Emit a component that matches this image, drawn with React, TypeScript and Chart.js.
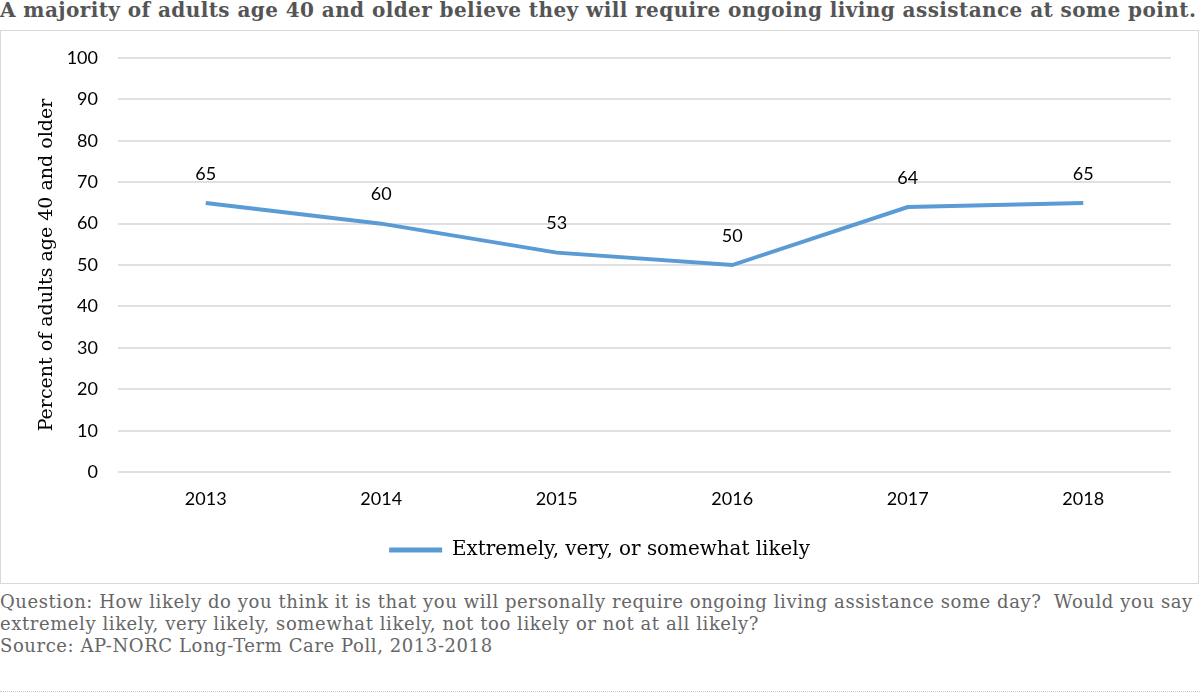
import React, { useEffect, useRef } from 'react';
import { Chart, registerables } from 'chart.js';

Chart.register(...registerables);

const categories = ['2013', '2014', '2015', '2016', '2017', '2018'];
const likelyValues = [65, 60, 53, 50, 64, 65];
const seriesLabel = 'Extremely, very, or somewhat likely';
const yMin = 0;
const yMax = 100;
const yStep = 10;
const yAxisTitle = 'Percent of adults age 40 and older';
const titleText =
  'A majority of adults age 40 and older believe they will require ongoing living assistance at some point.';
const noteLines = [
  'Question: How likely do you think it is that you will personally require ongoing living assistance some day?  Would you say',
  'extremely likely, very likely, somewhat likely, not too likely or not at all likely?',
  'Source: AP-NORC Long-Term Care Poll, 2013-2018',
];

const LINE_COLOR = '#5B9BD5';
const SLAB = '"DejaVu Serif", serif';
const SANS = 'Lato, "Open Sans", sans-serif';

const valueLabels = {
  id: 'valueLabels',
  afterDatasetsDraw(chart: any) {
    const ctx = chart.ctx;
    const meta = chart.getDatasetMeta(0);
    const data = chart.data.datasets[0].data;
    ctx.save();
    ctx.font = '18px Lato';
    ctx.fillStyle = '#000';
    ctx.textAlign = 'center';
    ctx.textBaseline = 'middle';
    meta.data.forEach((pt: any, i: number) => {
      ctx.fillText(String(data[i]), pt.x, pt.y - 29);
    });
    ctx.restore();
  },
};

export default function App() {
  const canvasRef = useRef<HTMLCanvasElement | null>(null);

  useEffect(() => {
    document.body.style.margin = '0';
    const canvas = canvasRef.current;
    if (!canvas) return;
    const defaultGen = (Chart as any).defaults.plugins.legend.labels.generateLabels;
    const chart = new Chart(canvas, {
      type: 'line',
      data: {
        labels: categories,
        datasets: [
          {
            label: seriesLabel,
            data: likelyValues,
            borderColor: LINE_COLOR,
            backgroundColor: LINE_COLOR,
            borderWidth: 4,
            pointRadius: 0,
            pointHoverRadius: 0,
            tension: 0,
          },
        ],
      },
      options: {
        responsive: false,
        maintainAspectRatio: false,
        animation: false,
        devicePixelRatio: 1,
        layout: { padding: { top: 27, right: 0, left: 0, bottom: 13 } },
        plugins: {
          legend: {
            position: 'bottom',
            labels: {
              font: { family: SLAB, size: 19.9 },
              color: '#000',
              boxWidth: 53,
              boxHeight: 5,
              padding: 10,
              generateLabels(chart: any) {
                return defaultGen(chart).map((l: any) => ({ ...l, lineWidth: 0 }));
              },
            },
          },
          tooltip: { enabled: false },
          title: { display: false },
        },
        scales: {
          x: {
            offset: true,
            grid: { display: false, drawTicks: false },
            border: { display: false },
            ticks: { font: { family: SANS, size: 18 }, color: '#000', padding: 16 },
            afterFit(scale: any) {
              scale.height = 58;
            },
          },
          y: {
            min: yMin,
            max: yMax,
            grid: { color: '#e0e0e0', lineWidth: 2, drawTicks: false },
            border: { display: false },
            ticks: {
              stepSize: yStep,
              font: { family: SANS, size: 18 },
              color: '#000',
              padding: 20,
            },
            title: {
              display: true,
              text: yAxisTitle,
              font: { family: SLAB, size: 19 },
              color: '#000',
              padding: { top: 35, bottom: 0 },
            },
            afterFit(scale: any) {
              scale.width = 117;
              scale.paddingTop = 0;
              scale.paddingBottom = 0;
            },
          },
          yRight: {
            position: 'right',
            display: true,
            grid: { display: false, drawTicks: false },
            border: { display: false },
            ticks: { display: false },
            afterFit(scale: any) {
              scale.width = 27;
              scale.paddingTop = 0;
              scale.paddingBottom = 0;
            },
          },
        },
      },
      plugins: [valueLabels],
    });
    return () => chart.destroy();
  }, []);

  return (
    <div style={{ position: 'relative', width: 1200, height: 695, background: '#fff', overflow: 'hidden' }}>
      <div
        style={{
          position: 'absolute',
          left: 0,
          top: -5,
          width: 1200,
          height: 30,
          lineHeight: '30px',
          fontFamily: SLAB,
          fontWeight: 'bold',
          fontSize: 20,
          letterSpacing: '0.42px',
          color: '#555',
          whiteSpace: 'nowrap',
        }}
      >
        {titleText}
      </div>
      <div
        style={{
          position: 'absolute',
          left: 0,
          top: 30,
          width: 1197,
          height: 552,
          border: '1.5px solid #d9d9d9',
        }}
      >
        <canvas ref={canvasRef} width={1197} height={552} style={{ display: 'block' }} />
      </div>
      <div
        style={{
          position: 'absolute',
          left: 0,
          top: 591,
          width: 1200,
          fontFamily: SLAB,
          fontSize: 18,
          letterSpacing: '0.58px',
          lineHeight: '22px',
          color: '#666',
          whiteSpace: 'pre',
        }}
      >
        {noteLines.map((l, i) => (
          <div key={i}>{l}</div>
        ))}
      </div>
      <div
        style={{
          position: 'absolute',
          left: 0,
          top: 691,
          width: 1200,
          borderTop: '1px dotted #c8c8c8',
        }}
      />
    </div>
  );
}
